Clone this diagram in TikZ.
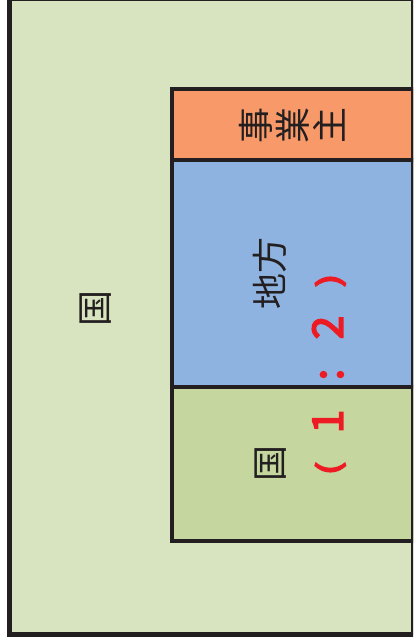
\documentclass[tikz,border=0pt]{standalone}
\usepackage{fontspec}
\newfontfamily\jpfont{Noto Sans CJK JP}
\newfontfamily\redfont[FakeBold=4]{Noto Sans CJK JP}
\definecolor{outerfill}{RGB}{216,228,191}
\definecolor{orangefill}{RGB}{247,153,104}
\definecolor{bluefill}{RGB}{142,179,224}
\definecolor{greenfill}{RGB}{197,215,158}
\definecolor{edge}{RGB}{35,31,32}
\definecolor{redtext}{RGB}{237,28,36}
\newcommand{\rcell}[1]{\makebox[47pt][c]{#1}}
\newcommand{\rparen}[1]{\makebox[47pt][c]{\raisebox{3pt}{\scalebox{1}[0.72]{#1}}}}
\tikzset{
  box/.style={draw=edge, line width=4.5pt},
  lbl/.style={font=\jpfont\fontsize{36pt}{37pt}\selectfont, text=edge, rotate=90, inner sep=0pt},
  redlbl/.style={font=\redfont\fontsize{42pt}{42pt}\selectfont, text=redtext, rotate=90, inner sep=0pt}
}
\begin{document}
\begin{tikzpicture}[x=1pt,y=-1pt]
\useasboundingbox (0,0) rectangle (413,644);
\clip (0,0) rectangle (413,644);
\draw[box, fill=outerfill] (9.5,-1) rectangle (413.5,634.5);
\draw[box, fill=orangefill] (172,89) rectangle (413.5,160);
\draw[box, fill=bluefill] (172,160) rectangle (413.5,387);
\draw[box, fill=greenfill] (172,387) rectangle (413.5,541);
\node[lbl] (kuniA) at (96,308) {国};
\node[lbl, align=center] (jigyo) at (292,126) {事\\業\\主};
\node[lbl] (chiho) at (270,273) {地方};
\node[lbl] (kuniB) at (271,463) {国};
\node[redlbl] (ratio) at (329,374.5) {\rparen{(}\rcell{1}\rcell{:}\rcell{2}\rparen{)}};
\end{tikzpicture}
\end{document}
